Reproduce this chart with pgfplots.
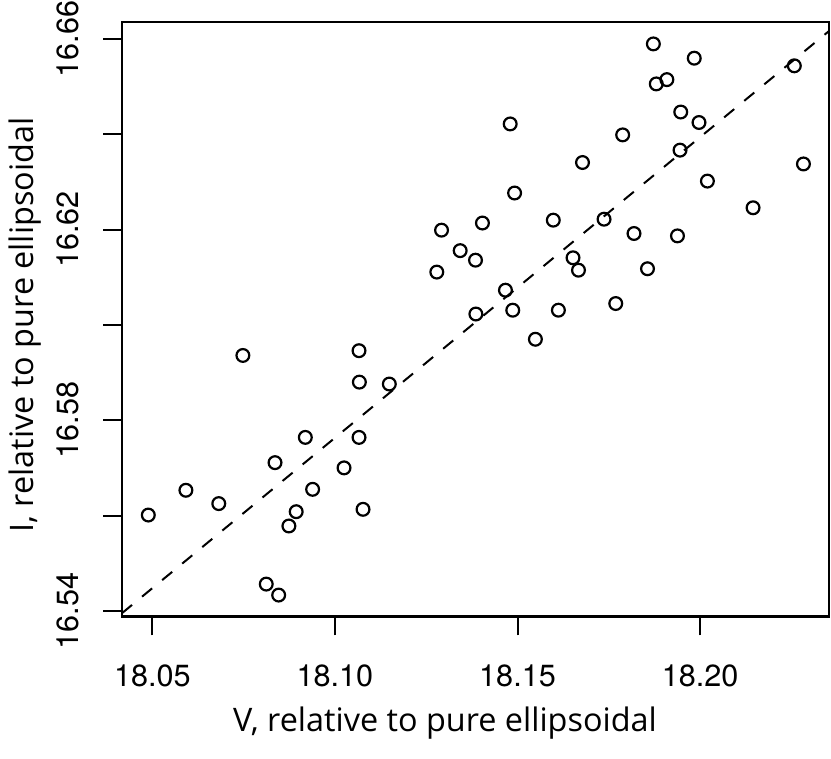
\documentclass[border=0pt]{standalone}
\usepackage{fontspec}
\setmainfont{TeX Gyre Heros}
\newfontfamily\labelfont{Open Sans}
\usepackage{pgfplots}
\pgfplotsset{compat=1.18}
\begin{document}
\begin{tikzpicture}
\begin{axis}[name=ax, scale only axis, width=353.5pt, height=297.25pt,
  xmin=18.0417, xmax=18.2353, ymin=16.5388, ymax=16.6636,
  axis line style={line width=1.1pt},
  xtick={18.05,18.10,18.15,18.20}, xticklabels={18.05,18.10,18.15,18.20},
  ytick={16.54,16.56,16.58,16.60,16.62,16.64,16.66},
  yticklabels={16.54,,16.58,,16.62,,16.66},
  tick align=outside, xtick pos=left, ytick pos=left, major tick length=9.5pt,
  tick style={line width=1pt, black},
  ticklabel style={font=\fontsize{15.3}{18}\selectfont},
  xticklabel style={anchor=base, yshift=-25.5pt},
  yticklabel style={xshift=-12.5pt, rotate=90, anchor=base},
  every axis x label/.style={at={(axis description cs:0.4569,-0.1938)}, anchor=base},
  every axis y label/.style={at={(axis description cs:-0.1245,0.4903)}, rotate=90, anchor=base},
  label style={font=\labelfont\fontsize{16.2}{19}\selectfont},
  xlabel={V, relative to pure ellipsoidal},
  ylabel={I, relative to pure ellipsoidal},
]
\addplot[only marks, mark=o, mark size=3.2pt, mark options={line width=1.1pt, black}] table {
x y
18.0489 16.5601
18.0592 16.5653
18.0682 16.5625
18.0748 16.5936
18.0812 16.5456
18.0846 16.5433
18.0836 16.5711
18.0874 16.5578
18.0894 16.5608
18.0919 16.5764
18.0939 16.5655
18.1025 16.5700
18.1066 16.5946
18.1067 16.5880
18.1149 16.5876
18.1066 16.5764
18.1077 16.5613
18.1872 16.6590
18.1984 16.6560
18.1880 16.6506
18.1909 16.6515
18.2258 16.6544
18.1480 16.6422
18.1947 16.6447
18.1997 16.6425
18.1788 16.6399
18.1945 16.6367
18.2283 16.6338
18.1678 16.6341
18.2020 16.6302
18.1492 16.6277
18.2145 16.6246
18.1292 16.6199
18.1404 16.6214
18.1598 16.6220
18.1737 16.6222
18.1819 16.6192
18.1938 16.6187
18.1343 16.6156
18.1385 16.6136
18.1279 16.6111
18.1652 16.6141
18.1667 16.6115
18.1856 16.6118
18.1467 16.6073
18.1386 16.6023
18.1487 16.6031
18.1612 16.6031
18.1769 16.6045
18.1549 16.5970
};
\addplot[black, line width=1pt, dash pattern=on 6.5pt off 6.5pt] coordinates {(18.0417,16.5395) (18.2353,16.6617)};
\end{axis}
\pgfresetboundingbox
\path[use as bounding box] ([xshift=-61pt,yshift=-70.75pt]ax.south west) rectangle ([xshift=1pt,yshift=11pt]ax.north east);
\end{tikzpicture}
\end{document}
